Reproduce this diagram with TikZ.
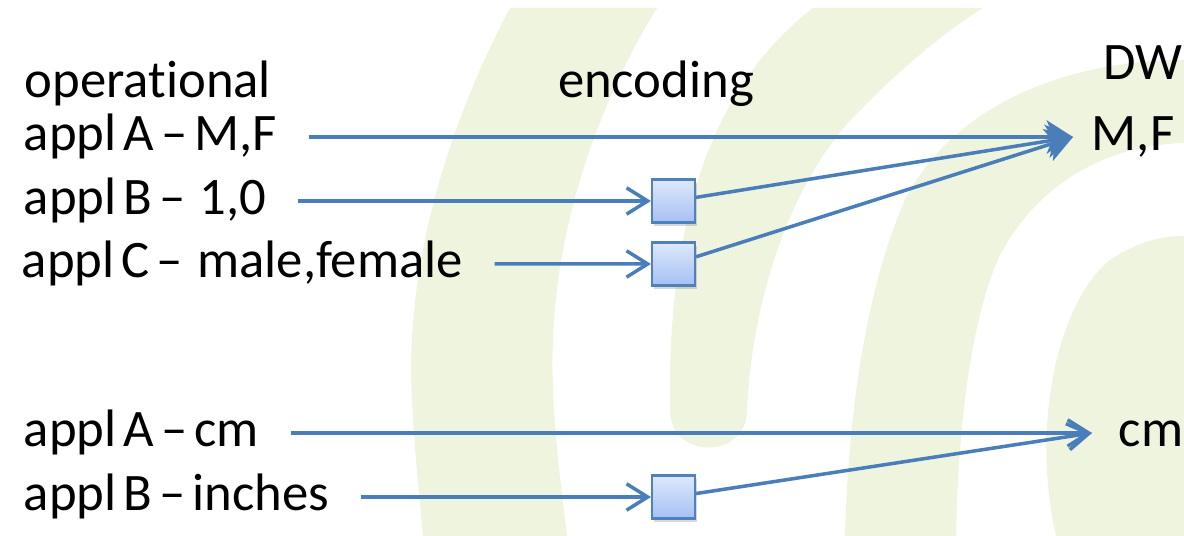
\documentclass[tikz,border=0pt]{standalone}
\usepackage{fontspec}
\setmainfont{Carlito}[WordSpace=0.6,Ligatures=NoCommon]
\usetikzlibrary{arrows.meta,shadows}
\definecolor{linkblue}{RGB}{74,126,187}
\definecolor{boxedge}{RGB}{79,129,189}
\definecolor{boxtop}{RGB}{222,232,252}
\definecolor{boxbottom}{RGB}{165,192,242}
\definecolor{leaf}{RGB}{239,244,222}

\begin{document}
\begin{tikzpicture}[x=0.02cm,y=-0.02cm,->,>={Straight Barb[length=12pt,width=15pt]},
  line width=2pt,node distance=1.26cm,
  txt/.style={anchor=west,inner sep=0pt,text height=22.5pt,text depth=7.5pt,font=\fontsize{30}{36}\selectfont},
  dwtxt/.style={txt,inner xsep=0.34cm},
  encbox/.style={draw=boxedge,line width=1.2pt,top color=boxtop,bottom color=boxbottom,
    minimum size=0.86cm,inner sep=0pt,drop shadow={shadow xshift=0.03cm,shadow yshift=-0.07cm,opacity=0.3}},
  fulltip/.style={-{Stealth[length=15pt,width=19pt,inset=4pt]}},
  fromtxt/.style={shorten <=0.6cm}]

  \path[use as bounding box,fill=white,-] (0,0) rectangle (1184,536);

  % watermark bands
  \begin{scope}[-]
  \fill[leaf] (510,8) .. controls (440,140) and (405,280) .. (412,400)
    .. controls (415,460) and (420,500) .. (423,536) -- (567,536)
    .. controls (560,480) and (550,400) .. (553,340)
    .. controls (557,220) and (600,100) .. (657,8) -- cycle;
  \fill[leaf] (813,8) .. controls (720,80) and (672,200) .. (670,380) -- (670,410)
    .. controls (670,460) and (747,460) .. (747,410)
    .. controls (752,300) and (790,180) .. (860,110)
    .. controls (900,70) and (940,35) .. (983,8) -- cycle;
  \fill[leaf] (1184,60) .. controls (1060,60) and (950,110) .. (905,200)
    .. controls (865,290) and (848,420) .. (845,536) -- (956,536)
    .. controls (958,430) and (970,320) .. (1000,255)
    .. controls (1040,180) and (1110,145) .. (1184,143) -- cycle;
  \fill[leaf] (1056,536) .. controls (1030,420) and (1060,300) .. (1110,260)
    .. controls (1140,240) and (1165,236) .. (1184,236) -- (1184,536) -- cycle;
  \end{scope}

  \node[txt,anchor=base west] (op) at (23,98) {operational};
  \node[txt,anchor=base] (enc) at (656,98) {encoding};
  \node[txt,anchor=base west] (dw) at (1102,80) {DW};

  \node[txt] (la) at (22,137) {appl A -- M,F};
  \node[txt] (lb) at (22,201) {appl B --\ \ 1,0};
  \node[txt] (lc) at (20,264) {appl C --\ \ male,female};
  \node[txt] (ld) at (22,433) {appl A -- cm};
  \node[txt] (le) at (22,497) {appl B -- inches};

  \node[encbox] (bb) at (673.5,201) {};
  \node[encbox] (bc) [below of=bb] {};
  \node[encbox] (be) at (673.5,497) {};

  \node[dwtxt] (mf) at (1073,137) {M,F};
  \node[dwtxt,inner xsep=0.5cm] (cm) at (1092,433) {cm};

  \path[linkblue]
    (la) edge[fromtxt,fulltip] (mf.west)
    (lb) edge[fromtxt] (bb)
    (lc) edge[fromtxt] (bc)
    (bb) edge[fulltip] (mf.west)
    (bc) edge[fulltip] (mf.west)
    (ld) edge[fromtxt] (cm.west)
    (le) edge[fromtxt] (be)
    (be) edge (cm.west);
\end{tikzpicture}
\end{document}
